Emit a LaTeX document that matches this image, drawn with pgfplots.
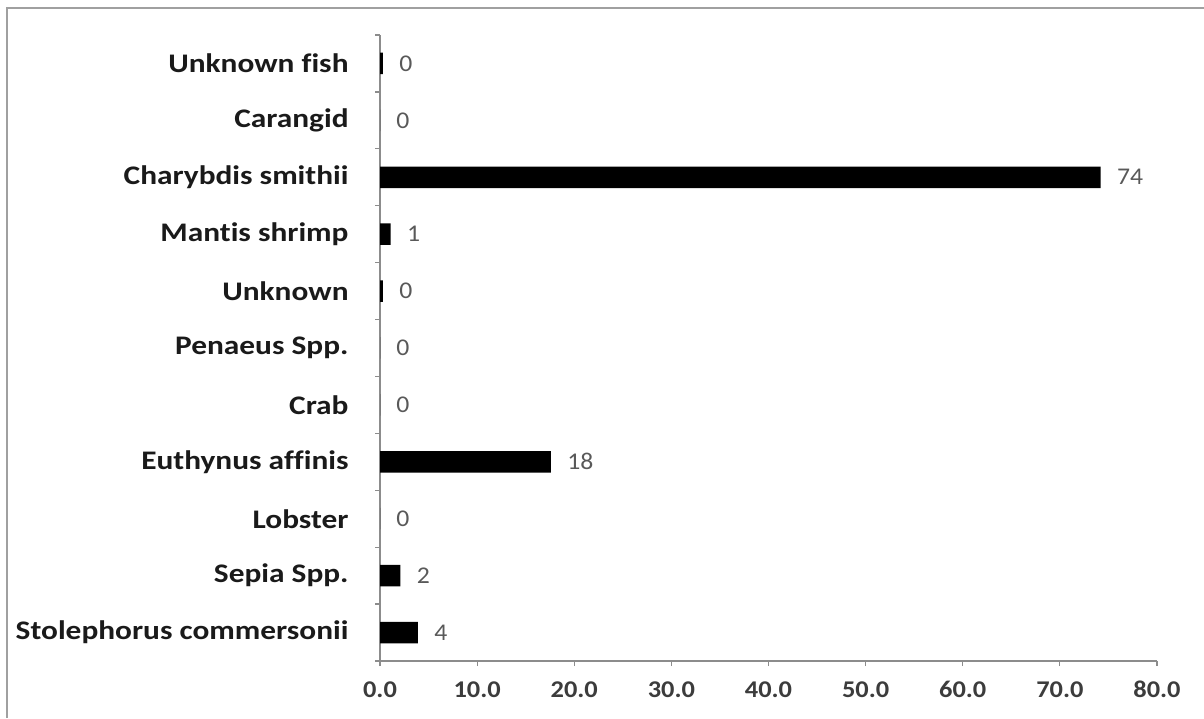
\documentclass[border=0pt]{standalone}
\usepackage{fontspec}
\setmainfont{Carlito}[Ligatures=NoCommon]
\usepackage{pgfplots}
\pgfplotsset{compat=1.18}
\definecolor{axisgray}{HTML}{8C8C8C}
\definecolor{framegray}{HTML}{A0A0A0}
\definecolor{valgray}{HTML}{595959}
\definecolor{labelblack}{HTML}{1A1A1A}
\begin{document}
\begin{tikzpicture}
\path[use as bounding box] (0,0) rectangle (602pt,359pt);
\draw[framegray, line width=1pt] (3.5pt,0) -- (3.5pt,355pt) -- (602pt,355pt);
\begin{axis}[
  at={(190pt,28.5pt)}, anchor=south west,
  scale only axis, width=388.5pt, height=313pt,
  xbar, bar width=10.75pt, bar shift=0pt,
  xmin=0, xmax=80, ymin=-0.5, ymax=10.5,
  axis x line*=bottom, axis y line*=left,
  axis line style={axisgray, line width=0.6pt},
  tick align=outside, major tick length=2.5pt, minor tick length=2.5pt,
  tick style={axisgray, line width=0.6pt},
  xtick={0,10,...,80},
  xticklabels={0.0,10.0,20.0,30.0,40.0,50.0,60.0,70.0,80.0},
  xticklabel style={font=\fontsize{12}{13}\selectfont\bfseries, text=labelblack!85, inner sep=0pt, yshift=-7.5pt, xscale=1.1},
  ytick={0,...,10},
  yticklabels={Stolephorus commersonii, Sepia Spp., Lobster, Euthynus affinis, Crab, Penaeus Spp., Unknown, Mantis shrimp, Charybdis smithii, Carangid, Unknown fish},
  yticklabel style={font=\fontsize{13.4}{14}\selectfont\bfseries, text=labelblack, inner sep=0pt, xshift=-13pt, xscale=1.17},
  major y tick style={draw=none},
  minor ytick={-0.5,0.5,...,10.5},
  /pgf/number format/.cd, fixed, precision=0, assume math mode=true,
  /pgfplots/.cd,
  nodes near coords, nodes near coords align={horizontal},
  every node near coord/.append style={text=valgray, font=\fontsize{12}{13}\selectfont, inner sep=0pt, xshift=8pt, xscale=1.07},
  clip=false,
]
\addplot[fill=black, draw=none] coordinates {
  (3.9,0) (2.1,1) (0,2) (17.6,3) (0,4) (0,5) (0.3,6) (1.1,7) (74.2,8) (0,9) (0.3,10)
};
\end{axis}
\end{tikzpicture}
\end{document}
